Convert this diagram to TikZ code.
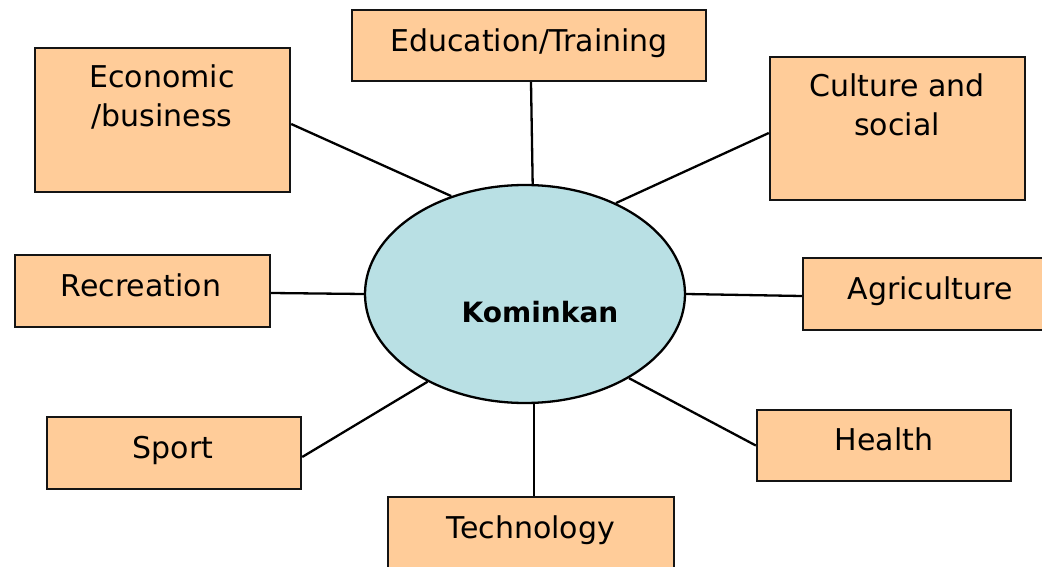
\documentclass[tikz,border=0pt]{standalone}
\usepackage{fontspec}
\setmainfont{DejaVu Sans}
\usetikzlibrary{shapes.geometric,calc}
\definecolor{boxfill}{RGB}{255,204,153}
\definecolor{ellfill}{RGB}{185,224,228}
\definecolor{edge}{RGB}{20,20,20}
\begin{document}
\begin{tikzpicture}[x=1pt,y=-1pt,
  topic/.style={draw=edge,line width=2.4pt,fill=boxfill,inner sep=0pt,rectangle},
  lbl/.style={inner sep=0pt,anchor=base,font=\fontsize{30}{39}\selectfont,align=center},
  link/.style={draw=black,line width=2.3pt}]
\useasboundingbox (0,0) rectangle (1042,567);
\fill[white] (0,0) rectangle (1042,567);
% centre
\node[ellipse,draw=black,line width=2.3pt,fill=ellfill,minimum width=320pt,minimum height=218pt,inner sep=0pt] (kom) at (525,294) {};
\node[inner sep=0pt,anchor=base,font=\fontsize{28}{34}\selectfont\bfseries] (komt) at (540,322) {Kominkan};
% boxes
\node[topic,minimum width=354pt,minimum height=71pt] (edu) at (529,45.5) {};
\node[topic,minimum width=255pt,minimum height=144pt] (eco) at (162.5,120) {};
\node[topic,minimum width=255pt,minimum height=143pt] (cul) at (897.5,128.5) {};
\node[topic,minimum width=255pt,minimum height=72pt] (rec) at (142.5,291) {};
\node[topic,minimum width=255pt,minimum height=72pt] (agr) at (930.5,294) {};
\node[topic,minimum width=254pt,minimum height=72pt] (spo) at (174,453) {};
\node[topic,minimum width=254pt,minimum height=71pt] (hea) at (884,445.5) {};
\node[topic,minimum width=286pt,minimum height=72pt] (tec) at (531,533) {};
% labels
\node[lbl] (edut) at (529,52) {Education/Training};
\node[lbl] (ecot1) at (162,88) {Economic};
\node[lbl] (ecot2) at (162,127) {/business};
\node[lbl] (cult1) at (897,97) {Culture and};
\node[lbl] (cult2) at (897,136) {social};
\node[lbl] (rect) at (141,296) {Recreation};
\node[lbl] (agrt) at (930,299) {Agriculture};
\node[lbl] (spot) at (173,458) {Sport};
\node[lbl] (heat) at (884,450) {Health};
\node[lbl] (tect) at (531,538) {Technology};
% connectors
\coordinate (tecup) at ($(tec.north)+(3,0)$);
\draw[link] ($(eco.east)+(0,4)$) -- (kom.127.6);
\draw[link] ($(edu.south)+(2,0)$) -- (kom.86.3);
\draw[link] ($(cul.west)+(0,4.5)$) -- (kom.45.3);
\draw[link] ($(rec.east)+(0,2)$) -- (kom.west);
\draw[link] ($(agr.west)+(0,2)$) -- (kom.-0.4);
\draw[link] ($(spo.east)+(0,4)$) -- (kom.222.2);
\draw[link] (hea.west) -- (kom.321.9);
\draw[link] (tecup) -- (tecup |- kom.south);
\end{tikzpicture}
\end{document}
